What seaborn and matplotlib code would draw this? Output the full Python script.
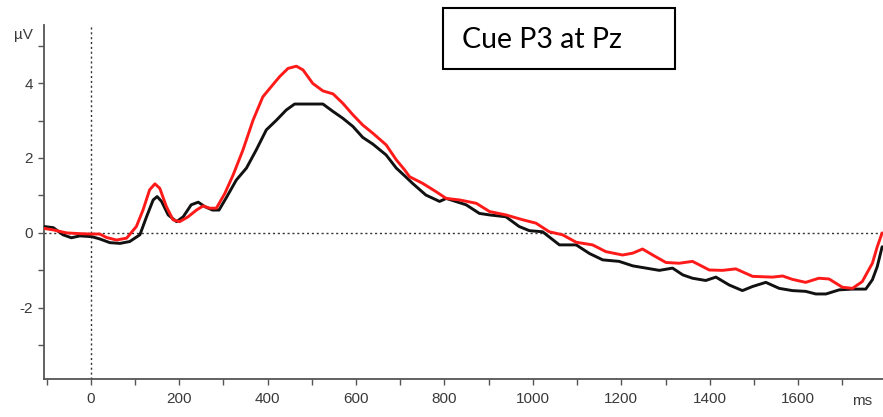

# ── IMPORTS ──────────────────────────────────────────────────
import numpy as np
import pandas as pd
import matplotlib
matplotlib.use("Agg")
import matplotlib.pyplot as plt
from matplotlib.ticker import MultipleLocator, FuncFormatter
from matplotlib.patches import Rectangle
import seaborn as sns


# ── DATA ─────────────────────────────────────────────────────
black_t = [-106, -85, -63, -44, -25, 2, 20, 43, 66, 88, 111, 126, 141, 150, 160,
           175, 194, 209, 227, 243, 258, 275, 290, 307, 329, 352, 374, 397, 420,
           442, 461, 525, 548, 570, 593, 615, 638, 668, 691, 712, 728, 758, 789,
           804, 849, 879, 902, 939, 969, 992, 1022, 1060, 1098, 1128, 1158, 1195,
           1226, 1256, 1286, 1316, 1339, 1361, 1391, 1414, 1444, 1474, 1497, 1527,
           1557, 1587, 1617, 1640, 1663, 1693, 1723, 1753, 1768, 1779, 1790]
black_v = [0.17, 0.14, -0.05, -0.13, -0.08, -0.10, -0.16, -0.26, -0.28, -0.23,
           -0.05, 0.43, 0.88, 0.97, 0.84, 0.48, 0.30, 0.43, 0.75, 0.82, 0.70, 0.61,
           0.61, 0.95, 1.41, 1.73, 2.21, 2.75, 3.01, 3.28, 3.44, 3.44, 3.24, 3.06,
           2.84, 2.55, 2.37, 2.08, 1.73, 1.50, 1.32, 1.01, 0.84, 0.92, 0.75, 0.52,
           0.48, 0.43, 0.17, 0.06, 0.03, -0.32, -0.32, -0.55, -0.72, -0.76, -0.88,
           -0.94, -1.00, -0.94, -1.12, -1.21, -1.27, -1.18, -1.39, -1.54, -1.43,
           -1.32, -1.48, -1.54, -1.56, -1.63, -1.63, -1.52, -1.50, -1.50, -1.25,
           -0.90, -0.37]

red_t = [-106, -85, -55, -25, 0, 20, 35, 58, 81, 103, 118, 133, 145, 156, 171,
         186, 201, 220, 239, 254, 269, 284, 303, 322, 344, 367, 389, 405, 427,
         446, 465, 480, 502, 525, 548, 570, 593, 615, 638, 668, 691, 710, 721,
         751, 781, 804, 834, 872, 902, 939, 977, 1007, 1037, 1067, 1098, 1135,
         1165, 1203, 1226, 1248, 1271, 1301, 1331, 1361, 1376, 1399, 1429, 1459,
         1497, 1542, 1565, 1587, 1617, 1647, 1670, 1700, 1723, 1745, 1768, 1779,
         1790]
red_v = [0.12, 0.08, 0.00, -0.02, -0.03, -0.03, -0.12, -0.19, -0.14, 0.17, 0.61,
         1.15, 1.31, 1.19, 0.70, 0.35, 0.30, 0.43, 0.61, 0.72, 0.66, 0.66, 1.05,
         1.55, 2.21, 3.01, 3.63, 3.86, 4.17, 4.39, 4.45, 4.35, 3.99, 3.79, 3.71,
         3.46, 3.15, 2.88, 2.66, 2.35, 1.95, 1.68, 1.50, 1.32, 1.10, 0.92, 0.88,
         0.79, 0.57, 0.48, 0.35, 0.26, 0.03, -0.05, -0.25, -0.32, -0.50, -0.59,
         -0.54, -0.43, -0.59, -0.79, -0.81, -0.76, -0.85, -0.99, -1.00, -0.96,
         -1.16, -1.18, -1.15, -1.24, -1.32, -1.21, -1.23, -1.45, -1.48, -1.30,
         -0.81, -0.37, 0.00]

TITLE = "Cue P3 at Pz"


# ── STYLE ────────────────────────────────────────────────────
sns.set_style("ticks")
plt.rcParams["font.family"] = ["Liberation Sans", "DejaVu Sans"]
AXIS_GREY = "#555555"
TEXT_GREY = "#3a3a3a"


# ── FIGURE ───────────────────────────────────────────────────
fig = plt.figure(figsize=(8.83, 4.17), dpi=100)
ax = fig.add_axes([0.0498, 0.0911, 0.9502, 0.849])

sns.lineplot(x=black_t, y=black_v, color="#111111", lw=2.1,
             estimator=None, sort=False, ax=ax, zorder=3)
sns.lineplot(x=red_t, y=red_v, color="#ff1a1a", lw=2.1,
             estimator=None, sort=False, ax=ax, zorder=4)

# dotted reference lines at 0 ms and 0 µV
ax.axhline(0, color="#333333", lw=1.0, ls=(0, (1.5, 2)), zorder=1)
ax.axvline(0, color="#333333", lw=1.0, ls=(0, (1.5, 2)), zorder=1)

ax.set_xlim(-106, 1792)
ax.set_ylim(-3.9, 5.55)

ax.xaxis.set_major_locator(MultipleLocator(200))
ax.xaxis.set_minor_locator(MultipleLocator(100))
ax.yaxis.set_major_locator(MultipleLocator(2))
ax.yaxis.set_minor_locator(MultipleLocator(1))
ax.xaxis.set_major_formatter(FuncFormatter(lambda v, p: f"{v:.0f}" if 0 <= v <= 1600 else ""))
ax.yaxis.set_major_formatter(FuncFormatter(lambda v, p: f"{v:.0f}"))

ax.tick_params(which="both", direction="out", length=4, width=1.0,
               color=AXIS_GREY, labelsize=11, labelcolor=TEXT_GREY)
ax.tick_params(axis="x", pad=5)
ax.tick_params(axis="y", pad=4)
for side in ["left", "bottom"]:
    ax.spines[side].set_color(AXIS_GREY)
    ax.spines[side].set_linewidth(1.3)
sns.despine(ax=ax)
ax.set_xlabel("")
ax.set_ylabel("")

# unit labels
fig.text(23 / 883, 1 - 35 / 417, "µV", fontsize=11, color=TEXT_GREY,
         ha="center", va="center")
fig.text(862 / 883, 1 - 401 / 417, "ms", fontsize=11, color=TEXT_GREY,
         ha="center", va="center")

# title box
fig.patches.append(Rectangle((443 / 883, 1 - 69 / 417), 232 / 883, 61 / 417,
                             transform=fig.transFigure, fill=False,
                             edgecolor="black", lw=1.5))
fig.text(542 / 883, 1 - 40 / 417, TITLE, fontsize=20.5, family="Lato",
         color="black", ha="center", va="center")

fig.savefig("out.png", dpi=100)
